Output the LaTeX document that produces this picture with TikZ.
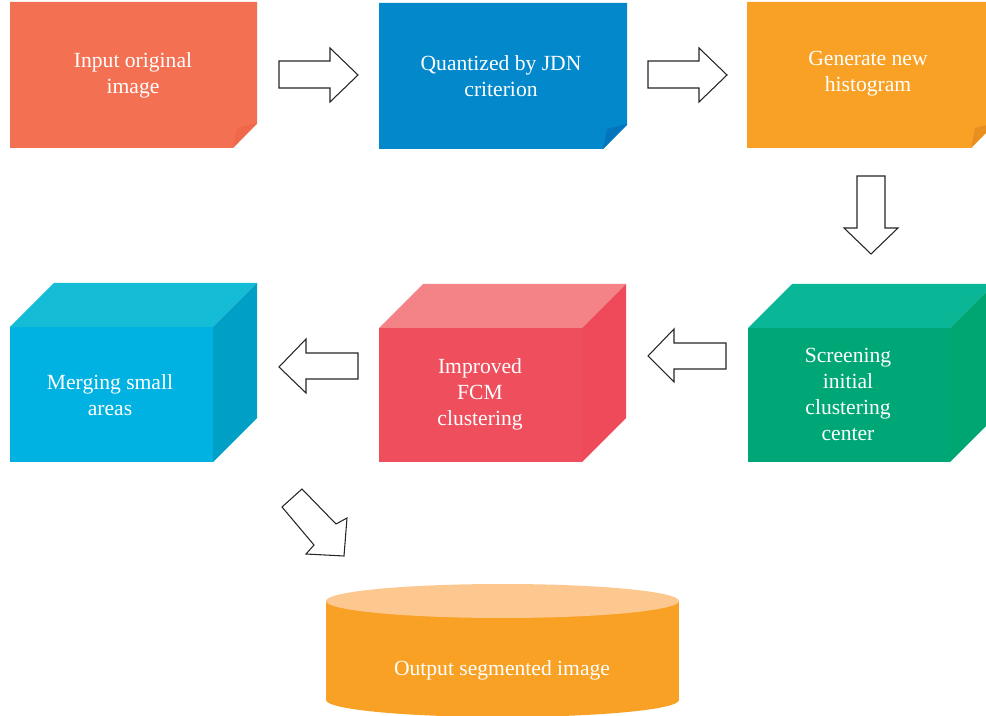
\documentclass[tikz,border=0pt]{standalone}
\usepackage{fontspec}
\setmainfont{Liberation Serif}
\definecolor{cA}{HTML}{F37052}
\definecolor{cAf}{HTML}{F0684A}
\definecolor{cB}{HTML}{0288CB}
\definecolor{cBf}{HTML}{0275BD}
\definecolor{cC}{HTML}{F8A125}
\definecolor{cCf}{HTML}{E8901F}
\definecolor{gF}{HTML}{00A776}
\definecolor{gT}{HTML}{09B696}
\definecolor{gS}{HTML}{00A671}
\definecolor{rF}{HTML}{EF4F5D}
\definecolor{rT}{HTML}{F38387}
\definecolor{rS}{HTML}{EE4A5A}
\definecolor{bF}{HTML}{00B2E2}
\definecolor{bT}{HTML}{14BCD6}
\definecolor{bS}{HTML}{00A0C6}
\definecolor{yT}{HTML}{FCC890}
\newcommand\mynote[6]{%
  \fill[#5] (#1,#2) -- (#3,#2) -- (#3,#4-24) -- (#3-24,#4) -- (#1,#4) -- cycle;
  \fill[#6] (#3-24,#4) -- (#3-20,#4-20) -- (#3,#4-25) -- cycle;}
\newcommand\mycube[7]{%
  \fill[#5] (#1,#2) rectangle (#3,#4);
  \fill[#6] (#1,#2) -- (#1+44,#2-44) -- (#3+44,#2-44) -- (#3,#2) -- cycle;
  \fill[#7] (#3,#2) -- (#3+44,#2-44) -- (#3+44,#4-44) -- (#3,#4) -- cycle;}
\tikzset{
  lbl/.style={text=white, font=\fontsize{16.2}{19.5}\selectfont, align=center, inner sep=0pt},
  blockarrow/.style={draw=black!85, fill=white, line width=0.8pt, line join=miter}
}
\begin{document}
\begin{tikzpicture}[x=0.75pt,y=-0.75pt]
\useasboundingbox (0,0) rectangle (986,716);
\clip (0,0) rectangle (986,716);
% top row notes
\mynote{10}{2}{257}{148}{cA}{cAf}
\mynote{379}{3}{627}{149}{cB}{cBf}
\mynote{747}{2}{995}{148}{cC}{cCf}
% cubes
\mycube{748}{328}{950}{462}{gF}{gT}{gS}
\mycube{379}{328}{582}{462}{rF}{rT}{rS}
\mycube{10}{327}{213}{462}{bF}{bT}{bS}
% cylinder
\fill[cC] (326,601) rectangle (679,700);
\fill[cC] (502.5,700) ellipse [x radius=176.5, y radius=17];
\fill[yT] (502.5,601) ellipse [x radius=176.5, y radius=17];
% block arrows
\draw[blockarrow] (279,61) -- (330,61) -- (330,48) -- (358,75) -- (330,102) -- (330,88) -- (279,88) -- cycle;
\draw[blockarrow] (648,61) -- (699,61) -- (699,48) -- (727,75) -- (699,102) -- (699,88) -- (648,88) -- cycle;
\draw[blockarrow] (857,176) -- (885,176) -- (885,228) -- (898,228) -- (871,254) -- (844,228) -- (857,228) -- cycle;
\draw[blockarrow] (726,343) -- (674,343) -- (674,329) -- (648,356) -- (674,382) -- (674,369) -- (726,369) -- cycle;
\draw[blockarrow] (358,353) -- (306,353) -- (306,339) -- (279,367) -- (306,393) -- (306,379) -- (358,379) -- cycle;
\draw[blockarrow] (302,489) -- (336,524) -- (347,518) -- (344,556) -- (306,554) -- (314,545) -- (282,507) -- cycle;
% labels
\node[lbl] (n1) at (133,75) {Input original\\image};
\node[lbl] (n2) at (501,76) {Quantized by JDN\\criterion};
\node[lbl] (n3) at (868,74) {Generate new\\histogram};
\node[lbl] (n4) at (848,394) {Screening\\initial\\clustering\\center};
\node[lbl] (n5) at (480,394) {Improved\\FCM\\clustering};
\node[lbl] (n6) at (110,395) {Merging small\\areas};
\node[lbl] (n7) at (502,670) {Output segmented image};
\end{tikzpicture}
\end{document}
